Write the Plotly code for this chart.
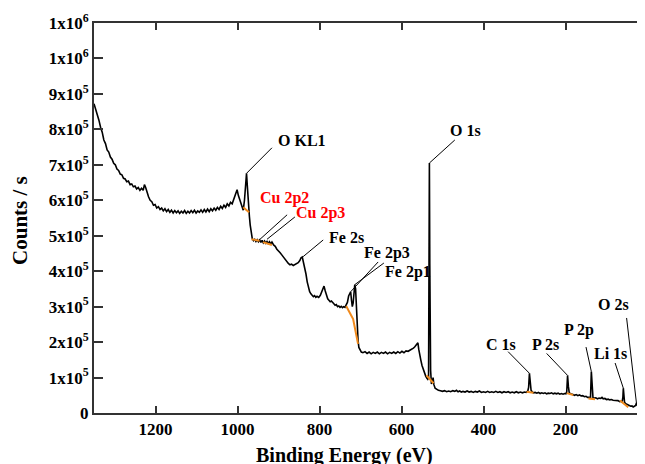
import plotly.graph_objects as go

# ---- survey spectrum (binding energy, counts/s) ----
binding_energy = [
    1350, 1346, 1342, 1338, 1334, 1330, 1326, 1322, 1318, 1314, 1310, 1306, 1302, 1298, 1294, 1290,
    1286, 1282, 1278, 1274, 1270, 1266, 1262, 1258, 1254, 1250, 1246, 1242, 1238, 1234, 1230, 1227,
    1224, 1221, 1217, 1213, 1209, 1205, 1201, 1197, 1193, 1189, 1185, 1181, 1177,
    1173, 1169, 1165, 1161, 1157, 1153, 1149, 1145, 1141, 1137, 1133, 1129, 1125, 1121, 1117, 1113,
    1109, 1105, 1101, 1097, 1093, 1089, 1085, 1081, 1077, 1073, 1069, 1065, 1061, 1057, 1053, 1049,
    1045, 1041, 1037, 1033, 1029, 1025, 1021, 1017, 1013, 1010, 1007, 1004, 1001, 998, 995, 991,
    988, 986, 983, 980, 978, 976, 974, 971, 969, 966, 964, 961, 958, 955, 952, 949,
    946, 943, 940, 937, 934, 931, 928, 925, 922, 919, 916, 912, 908, 904, 900, 896,
    892, 888, 884, 880, 876, 872, 868, 864, 860, 856, 852, 848, 845, 842, 839, 836,
    833, 830, 827, 824, 821, 818, 815, 812, 809, 806, 802, 798, 795, 792, 789, 786,
    783, 780, 777, 774, 771, 768, 765, 762, 759, 756, 753, 750, 747, 744, 741, 738,
    735, 732, 729, 726, 724, 722, 720, 718, 716, 714, 712, 710, 708, 706, 704, 701,
    698, 694, 689, 684, 679, 674, 669, 664, 659, 654, 649, 644, 639, 634, 629, 624,
    619, 614, 609, 604, 599, 594, 589, 584, 579, 575, 571, 568, 565, 562, 560, 558,
    556, 553, 550, 547, 544, 541, 538, 536, 534, 533, 532, 531, 530, 529, 527, 525,
    523, 521, 518, 514, 510, 505, 500, 495, 490, 485, 480, 475, 470, 466, 462, 458,
    454, 450, 445, 440, 435, 430, 425, 420, 415, 410, 405, 400, 395, 390, 385, 380,
    375, 370, 365, 360, 355, 350, 345, 340, 335, 330, 325, 320, 315, 310, 305, 300,
    296, 292, 290, 288, 286, 284, 281, 278, 274, 270, 266, 262, 258, 254, 250, 246,
    242, 238, 234, 230, 226, 222, 218, 214, 210, 206, 202, 199, 197, 195, 193, 191,
    188, 185, 182, 178, 174, 170, 166, 162, 158, 154, 150, 146, 142, 139, 137, 135,
    133, 130, 126, 122, 118, 114, 111, 108, 104, 100, 96, 92, 88, 84, 80, 76,
    72, 68, 65, 62, 60, 59, 58, 56, 53, 50, 47, 44, 41, 38, 35, 32,
    29, 27, 25, 23, 20, 17, 14, 11, 8, 5, 2,
]
counts = [
    872000, 858000, 838000, 826000, 806000, 792000, 770000, 760000, 742000, 736000, 722000, 716000, 704000, 700000, 688000, 684000,
    674000, 672000, 662000, 660000, 652000, 654000, 644000, 646000, 638000, 640000, 632000, 636000, 628000, 634000, 628000, 644000,
    636000, 622000, 610000, 600000, 596000, 586000, 588000, 578000, 582000, 574000, 578000, 570000, 576000,
    568000, 574000, 566000, 572000, 564000, 571000, 565000, 570000, 563000, 569000, 564000, 571000, 563000, 569000, 564000, 571000,
    565000, 572000, 564000, 570000, 566000, 573000, 566000, 574000, 567000, 575000, 568000, 576000, 570000, 578000, 572000, 580000,
    574000, 583000, 577000, 586000, 580000, 590000, 584000, 594000, 590000, 600000, 608000, 618000, 630000, 614000, 604000, 590000,
    576000, 572000, 600000, 650000, 676000, 640000, 590000, 555000, 530000, 505000, 492000, 486000, 490000, 484000, 489000, 483000,
    488000, 481000, 487000, 480000, 485000, 479000, 484000, 478000, 483000, 477000, 482000, 474000, 470000, 462000, 458000, 452000,
    446000, 440000, 432000, 426000, 422000, 418000, 420000, 416000, 419000, 421000, 424000, 430000, 438000, 440000, 426000, 412000,
    392000, 370000, 354000, 342000, 336000, 332000, 328000, 331000, 326000, 329000, 326000, 332000, 340000, 352000, 358000, 344000,
    330000, 322000, 318000, 314000, 316000, 310000, 308000, 304000, 306000, 300000, 302000, 298000, 301000, 297000, 300000, 298000,
    304000, 312000, 330000, 340000, 342000, 318000, 300000, 310000, 340000, 362000, 350000, 290000, 245000, 205000, 185000, 176000,
    172000, 170000, 173000, 168000, 172000, 167000, 171000, 168000, 172000, 167000, 171000, 168000, 172000, 167000, 171000, 168000,
    172000, 168000, 173000, 169000, 174000, 170000, 175000, 174000, 177000, 180000, 183000, 186000, 190000, 196000, 198000, 180000,
    164000, 150000, 134000, 122000, 112000, 104000, 98000, 95000, 100000, 300000, 705000, 420000, 180000, 120000, 82000, 88000,
    100000, 80000, 70000, 66000, 64000, 63000, 61000, 63000, 60000, 62000, 60000, 63000, 61000, 64000, 60000, 62000,
    59000, 61000, 59000, 62000, 59000, 61000, 58000, 61000, 59000, 62000, 58000, 60000, 58000, 61000, 58000, 60000,
    58000, 61000, 58000, 60000, 57000, 60000, 58000, 60000, 57000, 59000, 57000, 60000, 57000, 59000, 57000, 59000,
    58000, 62000, 72000, 112000, 80000, 64000, 59000, 57000, 58000, 56000, 58000, 55000, 57000, 55000, 57000, 54000,
    56000, 55000, 57000, 54000, 56000, 54000, 56000, 53000, 55000, 53000, 55000, 54000, 60000, 106000, 75000, 58000,
    54000, 52000, 52000, 50000, 52000, 49000, 51000, 48000, 49000, 46000, 47000, 44000, 45000, 44000, 117000, 60000,
    43000, 42000, 43000, 40000, 42000, 41000, 44000, 40000, 41000, 38000, 39000, 37000, 38000, 36000, 36000, 34000,
    35000, 32000, 33000, 31000, 45000, 70000, 40000, 30000, 26000, 24000, 21000, 20000, 19000, 20000, 17000, 19000,
    21000, 28000, 22000, 17000, 19000, 21000, 18000, 16000, 17000, 14000, 15000,
]

# ---- background segments under the peaks (orange) ----
bg_segments = {
    "O KL1": ([986, 972], [580000, 566000]),
    "Cu a": ([966, 946], [490000, 486000]),
    "Cu b": ([938, 916], [482000, 474000]),
    "Fe 2p": ([735, 718, 706], [302000, 265000, 195000]),
    "O 1s": ([539, 522], [106000, 84000]),
    "C 1s": ([295, 278], [60000, 57000]),
    "P 2s": ([197, 181], [56000, 51000]),
    "P 2p": ([144, 128], [41000, 39000]),
    "Li 1s": ([67, 47], [35000, 16000]),
}

# ---- peak labels: text, peak (x, y), leader end (x, y), label (x, y), anchor, colour ----
peak_labels = [
    ("O KL1", 978, 676000, 916, 748000, 906, 770000, "left", "black"),
    ("Cu 2p2", 947, 488000, 879, 559000, 950, 607000, "left", "red"),
    ("Cu 2p3", 928, 490000, 860, 553000, 862, 564000, "left", "red"),
    ("Fe 2s", 840, 441000, 791, 488000, 782, 494000, "left", "black"),
    ("Fe 2p3", 724, 342000, 657, 426000, 696, 451000, "left", "black"),
    ("Fe 2p1", 714, 362000, 643, 423000, 645, 398000, "left", "black"),
    ("O 1s", 532, 705000, 470, 770000, 443, 798000, "center", "black"),
    ("C 1s", 288, 112000, 340, 173000, 357, 192000, "center", "black"),
    ("P 2s", 195, 106000, 246, 168000, 250, 192000, "center", "black"),
    ("P 2p", 137, 117000, 150, 186000, 167, 234000, "center", "black"),
    ("Li 1s", 59, 70000, 79, 141000, 91, 169000, "center", "black"),
    ("O 2s", 27, 28000, 51, 268000, 82, 305000, "center", "black"),
]

y_tick_values = [0, 100000, 200000, 300000, 400000, 500000, 600000, 700000, 800000, 900000, 1000000, 1100000]
y_tick_labels = ["0", "1x10<sup>5</sup>", "2x10<sup>5</sup>", "3x10<sup>5</sup>", "4x10<sup>5</sup>",
                 "5x10<sup>5</sup>", "6x10<sup>5</sup>", "7x10<sup>5</sup>", "8x10<sup>5</sup>",
                 "9x10<sup>5</sup>", "1x10<sup>6</sup>", "1x10<sup>6</sup>"]
x_tick_values = [1200, 1000, 800, 600, 400, 200, 0]

SERIF = "Liberation Serif"
AX = "#333333"

fig = go.Figure()
fig.add_trace(go.Scatter(x=binding_energy, y=counts, mode="lines",
                         line=dict(color="black", width=1.6), showlegend=False, hoverinfo="skip"))

for name, (bx, by) in bg_segments.items():
    fig.add_trace(go.Scatter(x=bx, y=by, mode="lines", line=dict(color="#f08a1c", width=2),
                             showlegend=False, hoverinfo="skip"))

shapes = []
annotations = []
for text, px_, py_, ex, ey, tx, ty, anchor, col in peak_labels:
    shapes.append(dict(type="line", xref="x", yref="y", x0=px_, y0=py_, x1=ex, y1=ey,
                       line=dict(color="black", width=1)))
    annotations.append(dict(x=tx, y=ty, xref="x", yref="y", text=text, showarrow=False,
                            xanchor=anchor, yanchor="middle",
                            font=dict(family=SERIF, size=16, color=col, weight="bold")))

annotations.append(dict(x=0.4457, y=-0.108, xref="paper", yref="paper", text="Binding Energy (eV)",
                        showarrow=False, xanchor="center", yanchor="middle",
                        font=dict(family=SERIF, size=20, color="black", weight="bold")))
annotations.append(dict(x=-0.1317, y=0.495, xref="paper", yref="paper", text="Counts / s",
                        showarrow=False, textangle=-90, xanchor="center", yanchor="middle",
                        font=dict(family=SERIF, size=21, color="black", weight="bold")))

fig.update_layout(
    width=650, height=464,
    margin=dict(l=86, r=2, t=15, b=59),
    paper_bgcolor="white", plot_bgcolor="white",
    shapes=shapes, annotations=annotations,
    xaxis=dict(range=[1350, -20.7], tickvals=x_tick_values, ticks="inside", ticklen=7, tickwidth=1.5,
               tickcolor=AX, showline=True, linecolor=AX, linewidth=2, mirror="ticks",
               showgrid=False, zeroline=False,
               tickfont=dict(family=SERIF, size=17, color="black", weight="bold")),
    yaxis=dict(range=[0, 1100000], tickvals=y_tick_values, ticktext=y_tick_labels, ticks="inside",
               ticklen=9, tickwidth=1.5, tickcolor=AX, showline=True, linecolor=AX, linewidth=2,
               showgrid=False, zeroline=False,
               tickfont=dict(family=SERIF, size=17, color="black", weight="bold")),
)

fig.write_html("out.html")
